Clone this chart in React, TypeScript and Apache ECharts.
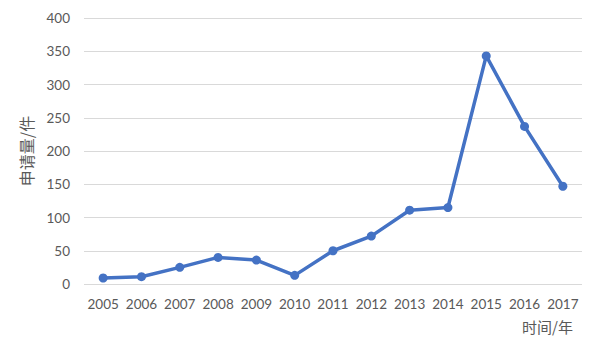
import React, { useEffect, useRef } from "react";
import * as echarts from "echarts";

const years = ["2005", "2006", "2007", "2008", "2009", "2010", "2011", "2012", "2013", "2014", "2015", "2016", "2017"];
const applications = [9, 11, 25, 40, 36, 13, 50, 72, 111, 115, 343, 237, 147];
const yTicks = { min: 0, max: 400, interval: 50 };
const yName = "申请量/件";
const xName = "时间/年";

export default function App() {
  const ref = useRef<HTMLDivElement>(null);
  useEffect(() => {
    if (!ref.current) return;
    const chart = echarts.init(ref.current, null, { renderer: "svg" });
    const labelColor = "#595959";
    chart.setOption({
      animation: false,
      backgroundColor: "#ffffff",
      grid: { left: 84, right: 18, top: 18, bottom: 76 },
      xAxis: {
        type: "category",
        data: years,
        boundaryGap: true,
        axisLine: { show: false },
        axisTick: { show: false },
        axisLabel: { color: labelColor, fontSize: 13.5, fontFamily: "Lato", margin: 13, interval: 0 },
      },
      yAxis: {
        type: "value",
        min: yTicks.min,
        max: yTicks.max,
        interval: yTicks.interval,
        name: yName,
        nameLocation: "middle",
        nameGap: 50,
        nameRotate: 90,
        nameTextStyle: { color: labelColor, fontSize: 16, fontFamily: "Noto Sans CJK SC" },
        axisLine: { show: false },
        axisTick: { show: false },
        axisLabel: { color: labelColor, fontSize: 13.5, fontFamily: "Lato", margin: 14 },
        splitLine: { lineStyle: { color: "#d9d9d9", width: 1 } },
      },
      graphic: [
        {
          type: "text",
          right: 27,
          top: 319,
          style: { text: xName, fill: labelColor, fontSize: 15, fontFamily: "Noto Sans CJK SC" },
        },
      ],
      series: [
        {
          type: "line",
          data: applications,
          symbol: "circle",
          symbolSize: 9,
          lineStyle: { color: "#4472C4", width: 3.5 },
          itemStyle: { color: "#4472C4" },
        },
      ],
    });
    return () => chart.dispose();
  }, []);
  return <div ref={ref} style={{ position: "fixed", left: 0, top: 0, width: 600, height: 360 }} />;
}
